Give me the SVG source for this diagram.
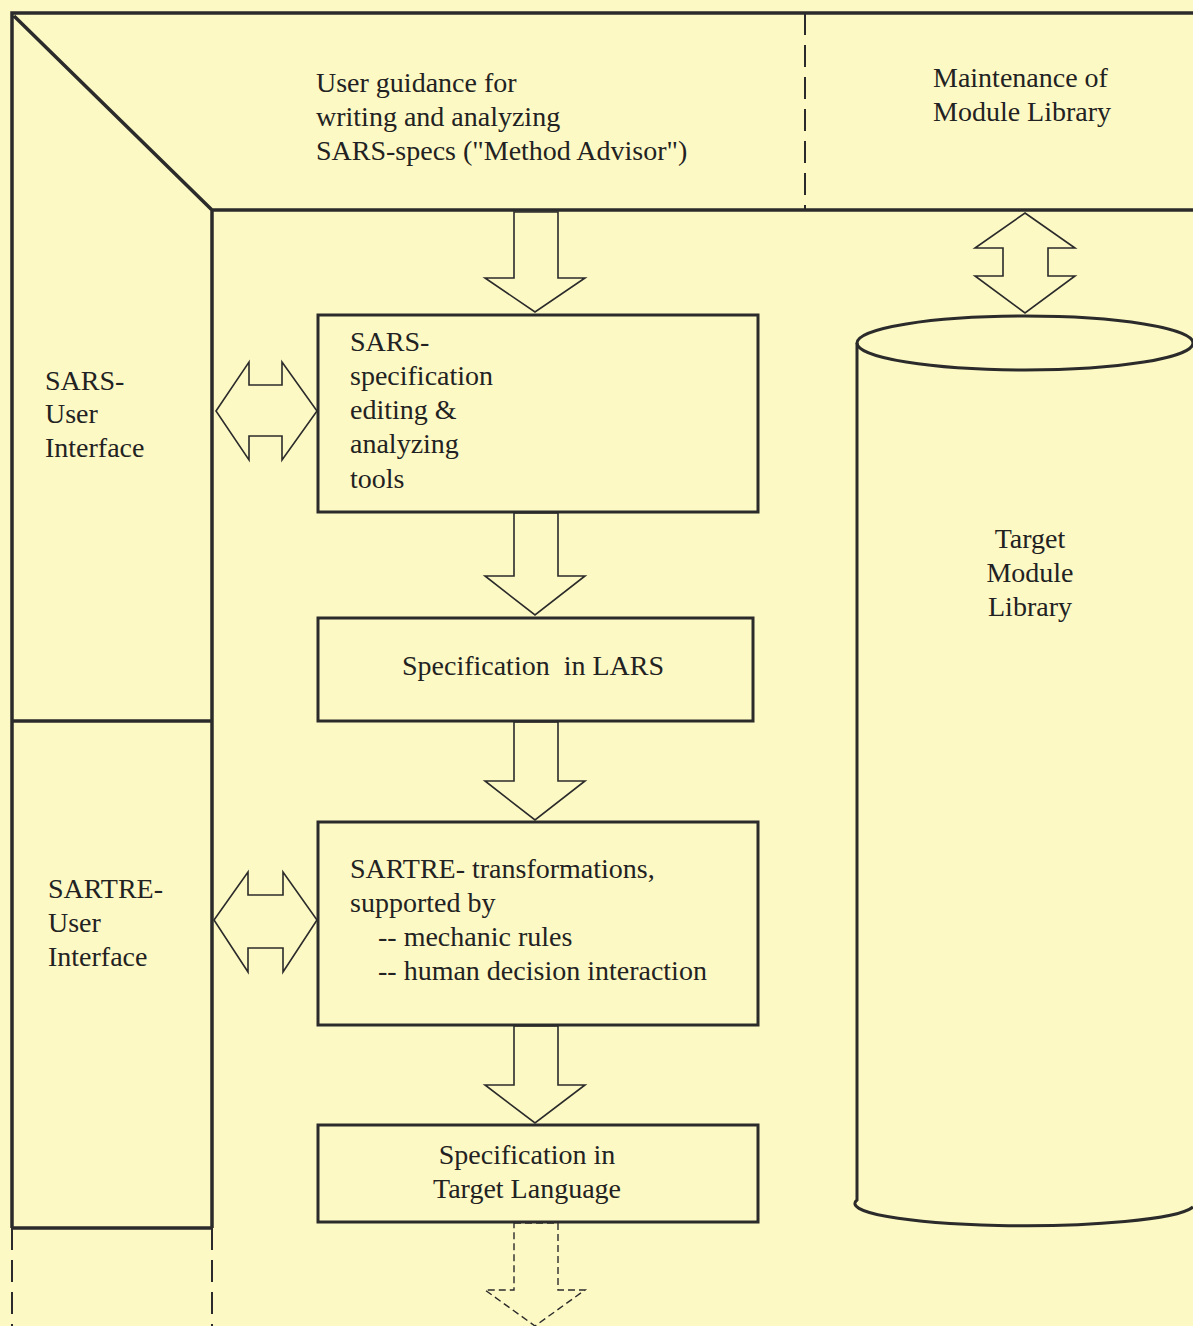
<svg xmlns="http://www.w3.org/2000/svg" width="1193" height="1326" viewBox="0 0 1193 1326">
<defs>
<style>
.bg{fill:#fdf9c4}
.frame{fill:none;stroke:#2b2b2b;stroke-width:3.5}
.dash{fill:none;stroke:#2b2b2b;stroke-width:2;stroke-dasharray:22 10}
.box{fill:none;stroke:#2b2b2b;stroke-width:3}
.arrow{fill:none;stroke:#2b2b2b;stroke-width:1.6;stroke-linejoin:miter}
.arrowd{fill:none;stroke:#2b2b2b;stroke-width:1.4;stroke-dasharray:7 4}
text{font-family:"Liberation Serif","Times New Roman",serif;font-size:28px;fill:#222}
.c{text-anchor:middle}
</style>
</defs>
<rect class="bg" x="0" y="0" width="1193" height="1326"/>

<g id="frame">
<path class="frame" d="M1193,13 H12 V1228 M14,16 L212,210 H1193 M212,210 V1228 M12,721 H212 M12,1228 H212"/>
<path class="dash" d="M12,1228 V1326 M212,1228 V1326"/>
<path class="dash" d="M805,13 V210"/>
</g>

<g id="method-advisor">
<text x="316" y="92">User guidance for</text>
<text x="316" y="126">writing and analyzing</text>
<text x="316" y="160">SARS-specs ("Method Advisor")</text>
</g>

<g id="maintenance">
<text x="933" y="87">Maintenance of</text>
<text x="933" y="121">Module Library</text>
</g>

<g id="sars-ui">
<text x="45" y="390">SARS-</text>
<text x="45" y="423">User</text>
<text x="45" y="457">Interface</text>
</g>

<g id="sartre-ui">
<text x="48" y="898">SARTRE-</text>
<text x="48" y="932">User</text>
<text x="48" y="966">Interface</text>
</g>

<g id="sars-tools">
<rect class="box" x="318" y="315" width="440" height="197"/>
<text x="350" y="351">SARS-</text>
<text x="350" y="385">specification</text>
<text x="350" y="419">editing &amp;</text>
<text x="350" y="453">analyzing</text>
<text x="350" y="488">tools</text>
</g>

<g id="lars">
<rect class="box" x="318" y="618" width="435" height="103"/>
<text x="533" y="675" class="c" xml:space="preserve">Specification  in LARS</text>
</g>

<g id="sartre">
<rect class="box" x="318" y="822" width="440" height="203"/>
<text x="350" y="878">SARTRE- transformations,</text>
<text x="350" y="912">supported by</text>
<text x="378" y="946">-- mechanic rules</text>
<text x="378" y="980">-- human decision interaction</text>
</g>

<g id="target-spec">
<rect class="box" x="318" y="1125" width="440" height="97"/>
<text x="527" y="1164" class="c">Specification in</text>
<text x="527" y="1198" class="c">Target Language</text>
</g>

<g id="library">
<path class="box" d="M857,343 V1200 A168,22 0 0 0 1193,1207"/>
<ellipse class="box" cx="1025" cy="343" rx="168" ry="27"/>
<text x="1030" y="548" class="c">Target</text>
<text x="1030" y="582" class="c">Module</text>
<text x="1030" y="616" class="c">Library</text>
</g>

<g id="connectors">
<polygon class="arrow" points="514,212 558,212 558,278 585,278 535,312 485,278 514,278"/>
<polygon class="arrow" points="514,513 558,513 558,576 585,576 535,615 485,576 514,576"/>
<polygon class="arrow" points="514,722 558,722 558,781 585,781 535,820 485,781 514,781"/>
<polygon class="arrow" points="514,1026 558,1026 558,1085 585,1085 535,1123 485,1085 514,1085"/>
<polygon class="arrowd" points="514,1223 558,1223 558,1290 585,1290 535,1326 485,1290 514,1290"/>
<polygon class="arrow" points="1025,213 1075,248 1048,248 1048,276 1075,276 1025,313 975,276 1003,276 1003,248 975,248"/>
<polygon class="arrow" points="216,411 249,362 249,385 282,385 282,362 317,411 282,460 282,436 249,436 249,460"/>
<polygon class="arrow" points="214,920 248,872 248,895 283,895 283,872 317,920 283,972 283,948 248,948 248,972"/>
</g>
</svg>
